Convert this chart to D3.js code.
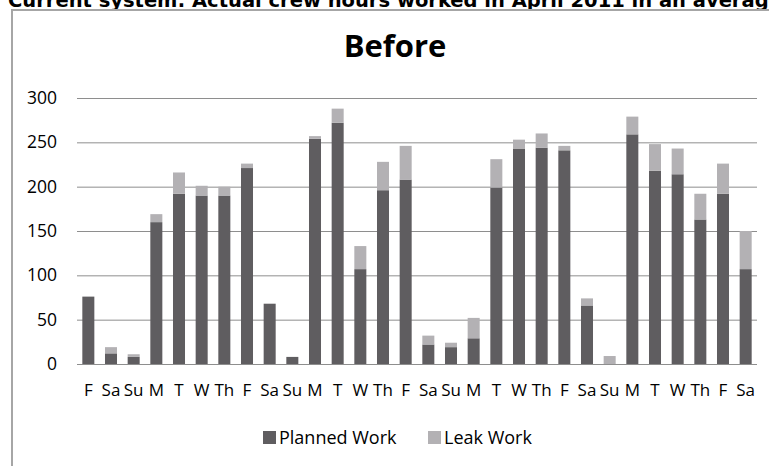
<!DOCTYPE html>
<html lang="en">
<head>
<meta charset="utf-8">
<style>
  body { margin: 0; background: white; }
  svg { display: block; font-family: "Open Sans", sans-serif; }
  .grid line { stroke: #8e8e8e; stroke-width: 1px; }
  .tick text { fill: #000; }
</style>
</head>
<body>
<svg width="769" height="466"></svg>
<script src="https://d3js.org/d3.v7.min.js"></script>
<script>
// days of April 2011 (starting Friday the 1st)
var days = ["F","Sa","Su","M","T","W","Th","F","Sa","Su","M","T","W","Th","F",
            "Sa","Su","M","T","W","Th","F","Sa","Su","M","T","W","Th","F","Sa"];
var planned = [76,12,8,160,192,190,190,221,68,8,254,272,107,196,208,
               22,19,29,199,243,244,241,66,0,259,218,214,163,192,107];
var leak    = [0,7,3,9,24,11,10,5,0,0,3,16,26,32,38,
               10,5,23,32,10,16,5,8,9,20,30,29,29,34,43];
var yTicks = [0,50,100,150,200,250,300];
var seriesNames = ["Planned Work", "Leak Work"];
var colors = ["#5f5d60", "#b3b1b4"];

var svg = d3.select("svg");

var rows = days.map(function(d, i) {
  return { key: i, day: d, planned: planned[i], leak: leak[i] };
});

var x = d3.scaleBand()
    .domain(d3.range(days.length))
    .range([77, 757])
    .paddingInner(0.47)
    .paddingOuter(0.235);

var y = d3.scaleLinear().domain([0, 300]).range([364, 98]);

// header text, cut off at the top of the picture
svg.append("text")
    .attr("x", 8)
    .attr("y", 7)
    .style("font-family", "DejaVu Sans")
    .style("font-weight", "bold")
    .style("font-size", "19.5px")
    .text("Current system: Actual crew hours worked in April 2011 in an average week");

// chart frame
svg.append("path")
    .attr("d", "M12,480 V10 H780")
    .attr("fill", "none")
    .attr("stroke", "#a6a6a6")
    .attr("stroke-width", 2);

svg.append("text")
    .attr("x", 395)
    .attr("y", 57)
    .attr("text-anchor", "middle")
    .style("font-weight", "bold")
    .style("font-size", "31px")
    .text("Before");

// gridlines
svg.append("g")
    .attr("class", "grid")
  .selectAll("line")
  .data(yTicks)
  .enter().append("line")
    .attr("x1", 77).attr("x2", 757)
    .attr("y1", function(d) { return y(d) + 0.5; })
    .attr("y2", function(d) { return y(d) + 0.5; });

// y axis labels
var yAxis = svg.append("g")
    .attr("transform", "translate(77,0)")
    .call(d3.axisLeft(y).tickValues(yTicks).tickSize(0).tickPadding(20));
yAxis.select(".domain").remove();
yAxis.selectAll("text").style("font-size", "17.5px").style("font-family", "Open Sans, sans-serif");

// stacked bars
var stack = d3.stack().keys(["planned", "leak"]);
var layers = stack(rows);

svg.append("g").selectAll("g")
  .data(layers)
  .enter().append("g")
    .attr("fill", function(d, i) { return colors[i]; })
  .selectAll("rect")
  .data(function(d) { return d; })
  .enter().append("rect")
    .attr("x", function(d) { return x(d.data.key); })
    .attr("width", x.bandwidth())
    .attr("y", function(d) { return y(d[1]); })
    .attr("height", function(d) { return y(d[0]) - y(d[1]); });

// x axis labels
var xAxis = svg.append("g")
    .attr("transform", "translate(0,364)")
    .call(d3.axisBottom(x).tickSize(0).tickPadding(20)
      .tickFormat(function(i) { return days[i]; }));
xAxis.select(".domain").remove();
xAxis.selectAll("text").style("font-size", "17px").style("font-family", "Open Sans, sans-serif");

// legend
var legendX = [263, 428];
var legend = svg.append("g").selectAll("g")
  .data(seriesNames)
  .enter().append("g")
    .attr("transform", function(d, i) { return "translate(" + legendX[i] + ",431)"; });
legend.append("rect")
    .attr("width", 13).attr("height", 13)
    .attr("fill", function(d, i) { return colors[i]; });
legend.append("text")
    .attr("x", 16)
    .attr("y", 13)
    .style("font-size", "18px")
    .text(function(d) { return d; });
</script>
</body>
</html>
